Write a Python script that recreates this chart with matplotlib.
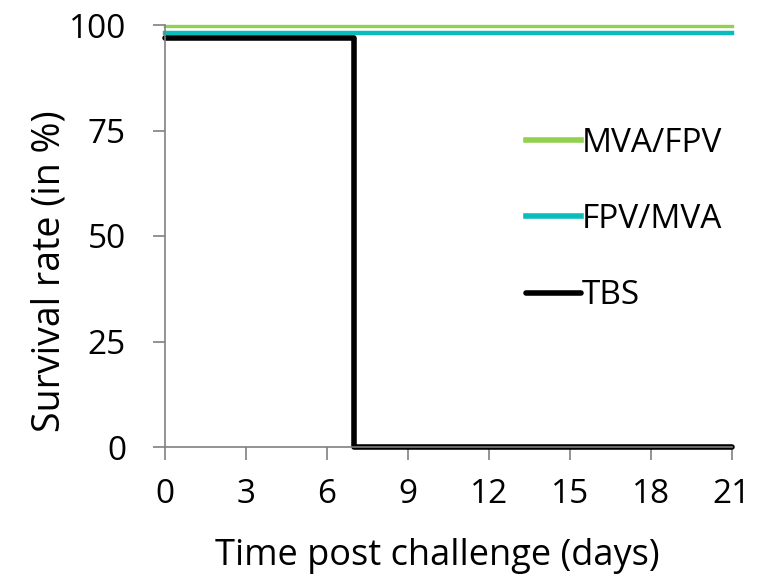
import matplotlib
matplotlib.use("Agg")
import matplotlib.pyplot as plt

# survival curves (days, % surviving)
days = [0, 7, 7, 21]
mva_fpv = [99.7, 99.7, 99.7, 99.7]
fpv_mva = [98.2, 98.2, 98.2, 98.2]
tbs = [97, 97, 0, 0]

xticks = [0, 3, 6, 9, 12, 15, 18, 21]
yticks = [0, 25, 50, 75, 100]

plt.rcParams['font.family'] = ['Open Sans', 'DejaVu Sans']

fig = plt.figure(figsize=(7.69, 5.77), dpi=100)
ax = fig.add_axes([165 / 769, 1 - 447 / 577, 567 / 769, 422 / 577])

ax.plot(days, mva_fpv, color='#92D050', lw=2.4, label='MVA/FPV', clip_on=False)
ax.plot(days, fpv_mva, color='#0ABDBD', lw=3.2, label='FPV/MVA', clip_on=False)
ax.plot(days, tbs, color='black', lw=4.0, label='TBS', clip_on=False,
        solid_capstyle='round')

ax.set_xlim(0, 21)
ax.set_ylim(0, 100)
ax.set_xticks(xticks)
ax.set_yticks(yticks)
ax.tick_params(labelsize=24, length=9, width=1.2, color='#808080')
ax.tick_params(axis='y', pad=19)
ax.tick_params(axis='x', pad=13)

for side in ['top', 'right']:
    ax.spines[side].set_visible(False)
for side in ['left', 'bottom']:
    ax.spines[side].set_color('#808080')
    ax.spines[side].set_linewidth(1.2)

ax.set_xlabel("Time post challenge (days)", fontsize=26)
ax.set_ylabel("Survival rate (in %)", fontsize=27)
ax.xaxis.set_label_coords(0.48, -0.215)
ax.yaxis.set_label_coords(-0.17, 0.417)

leg = ax.legend(loc='upper left', bbox_to_anchor=(0.583, 0.83), frameon=False,
                fontsize=24, handlelength=1.65, handletextpad=0.05,
                labelspacing=1.3)
for h in leg.get_lines():
    h.set_linewidth(4.0)

fig.savefig("out.png", dpi=100)
